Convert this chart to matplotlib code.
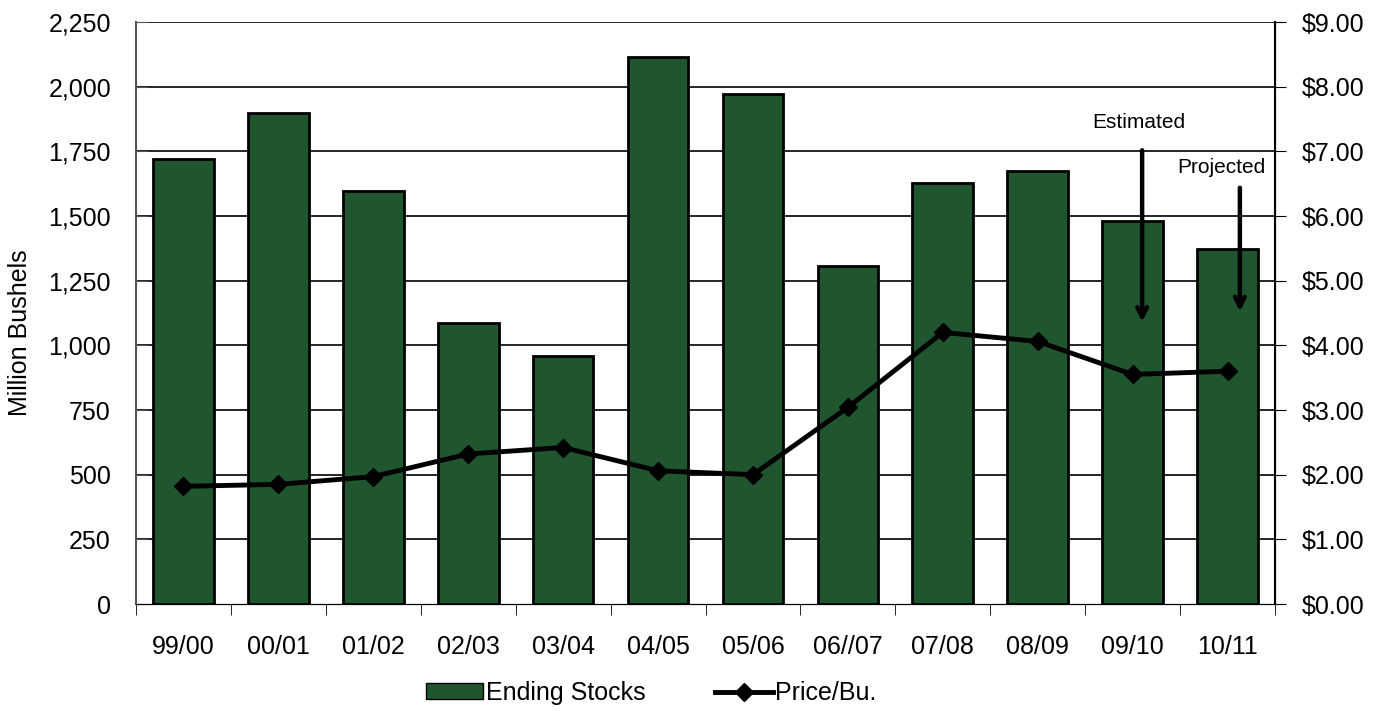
import matplotlib
matplotlib.use("Agg")
import matplotlib.pyplot as plt
from matplotlib.lines import Line2D
from matplotlib.patches import Patch
import numpy as np

plt.rcParams['font.family'] = ['Liberation Sans', 'DejaVu Sans']

categories = ["99/00", "00/01", "01/02", "02/03", "03/04", "04/05", "05/06",
              "06//07", "07/08", "08/09", "09/10", "10/11"]
ending_stocks = [1720, 1900, 1597, 1088, 960, 2115, 1972, 1305, 1626, 1675, 1480, 1374]
price = [1.82, 1.85, 1.97, 2.32, 2.42, 2.06, 2.00, 3.04, 4.20, 4.06, 3.55, 3.60]
left_ticks = [0, 250, 500, 750, 1000, 1250, 1500, 1750, 2000, 2250]
right_ticks = [0, 1, 2, 3, 4, 5, 6, 7, 8, 9]

bar_color = "#1f5630"
FS = 18

fig = plt.figure(figsize=(13.78, 7.11), dpi=100)
ax = fig.add_axes([136/1378, 1-604/711, (1275-136)/1378, (604-22)/711])
x = np.arange(len(categories))

for t in left_ticks[1:]:
    ax.axhline(t, color="black", lw=1.2, zorder=0)

ax.bar(x, ending_stocks, width=0.64, color=bar_color, edgecolor="black", linewidth=2, zorder=2)
ax.set_xlim(-0.5, len(categories) - 0.5)
ax.set_ylim(0, 2250)
ax.set_yticks(left_ticks)
ax.set_yticklabels([f"{v:,}" for v in left_ticks], fontsize=FS)
ax.set_xticks(x)
ax.set_xticklabels(categories, fontsize=FS)
ax.tick_params(axis='x', length=0, pad=22)
ax.set_xticks(np.arange(-0.5, len(categories), 1), minor=True)
ax.tick_params(axis='x', which='minor', length=8, direction='out', color='black')
ax.tick_params(axis='y', length=8, direction='in', pad=18, color="#555555")
ax.set_ylabel("Million Bushels", fontsize=FS)
ax.yaxis.set_label_coords(-104/1139, (604-333)/582)
ax.spines["top"].set_visible(False)
ax.spines["left"].set_color("#555555")
ax.spines["left"].set_linewidth(1.5)

ax2 = ax.twinx()
ax2.plot(x, price, color="black", lw=3.5, marker="D", markersize=9, zorder=5)
ax2.set_ylim(0, 9)
ax2.set_yticks(right_ticks)
ax2.set_yticklabels([f"${v:.2f}" for v in right_ticks], fontsize=FS)
ax2.tick_params(axis='y', length=8, direction='out', pad=11)
ax2.spines["top"].set_visible(False)
ax2.spines["left"].set_visible(False)
ax2.spines["right"].set_linewidth(1.5)

arrow_props = dict(arrowstyle="->,head_length=0.7,head_width=0.35", lw=3.2, color="black")
ax.text(10.07, 1860, "Estimated", fontsize=15, ha="center", va="center")
ax.annotate("", xy=(10.1, 1080), xytext=(10.1, 1765), arrowprops=arrow_props)
ax.text(10.94, 1689, "Projected", fontsize=15, ha="center", va="center")
ax.annotate("", xy=(11.13, 1120), xytext=(11.13, 1620), arrowprops=arrow_props)

handles = [Patch(facecolor=bar_color, edgecolor="black", label="Ending Stocks"),
           Line2D([0], [0], color="black", lw=3.5, marker="D", markersize=9, label="Price/Bu.")]
fig.legend(handles=handles, loc="center", bbox_to_anchor=(651/1378, 1-693/711), ncol=2,
           frameon=False, fontsize=FS, handlelength=2.3, handleheight=0.6,
           handletextpad=0.1, columnspacing=2.8)

fig.savefig("out.png", dpi=100)
